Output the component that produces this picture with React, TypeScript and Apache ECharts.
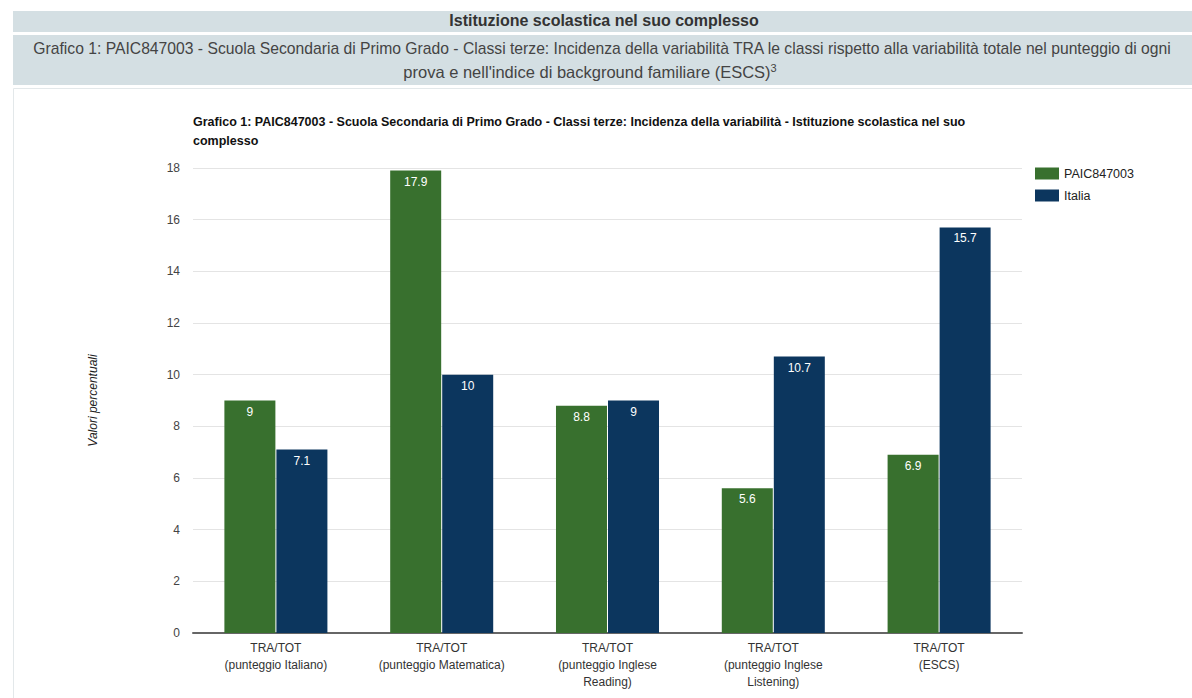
import React, { useEffect, useRef } from "react";
import * as echarts from "echarts";

const categories = [
  "TRA/TOT\n(punteggio Italiano)",
  "TRA/TOT\n(punteggio Matematica)",
  "TRA/TOT\n(punteggio Inglese\nReading)",
  "TRA/TOT\n(punteggio Inglese\nListening)",
  "TRA/TOT\n(ESCS)",
];
const schoolValues = [9, 17.9, 8.8, 5.6, 6.9];
const italyValues = [7.1, 10, 9, 10.7, 15.7];
const seriesNames = ["PAIC847003", "Italia"];
const headerTitle = "Istituzione scolastica nel suo complesso";
const headerLine1 =
  "Grafico 1: PAIC847003 - Scuola Secondaria di Primo Grado - Classi terze: Incidenza della variabilità TRA le classi rispetto alla variabilità totale nel punteggio di ogni";
const headerLine2 = "prova e nell'indice di background familiare (ESCS)";
const chartTitle =
  "Grafico 1: PAIC847003 - Scuola Secondaria di Primo Grado - Classi terze: Incidenza della variabilità - Istituzione scolastica nel suo\ncomplesso";
const yAxisName = "Valori percentuali";

const FONT = "'Liberation Sans', Arial, sans-serif";

export default function App() {
  const ref = useRef<HTMLDivElement>(null);
  useEffect(() => {
    if (!ref.current) return;
    const chart = echarts.init(ref.current, null, { renderer: "svg" });
    chart.setOption({
      animation: false,
      backgroundColor: "#ffffff",
      textStyle: { fontFamily: FONT },
      graphic: [
        { type: "rect", silent: true, z: -10, shape: { x: 13, y: 11, width: 1179, height: 21 }, style: { fill: "#d4dfe3" } },
        { type: "rect", silent: true, z: -10, shape: { x: 13, y: 35, width: 1179, height: 50 }, style: { fill: "#d4dfe3" } },
        { type: "rect", silent: true, z: -10, shape: { x: 13.5, y: 88.5, width: 1190, height: 640 }, style: { fill: "#ffffff", stroke: "#e3e8ea", lineWidth: 1 } },
        {
          type: "text", silent: true, x: 604, y: 20,
          style: { text: headerTitle, font: `bold 16px ${FONT}`, fill: "#333333", textAlign: "center", textVerticalAlign: "middle" },
        },
        {
          type: "text", silent: true, x: 602, y: 48,
          style: { text: headerLine1, font: `15.7px ${FONT}`, fill: "#444444", textAlign: "center", textVerticalAlign: "middle" },
        },
        {
          type: "text", silent: true, x: 590, y: 72,
          style: {
            text: headerLine2 + "{sup|3}",
            font: `16.5px ${FONT}`,
            fill: "#444444",
            textAlign: "center",
            textVerticalAlign: "middle",
            rich: { sup: { fontSize: 11, fontFamily: FONT, fill: "#444444", verticalAlign: "top", padding: [0, 0, 9, 0] } },
          },
        },
      ],
      title: {
        text: chartTitle,
        left: 193,
        top: 112,
        padding: 0,
        textStyle: { fontFamily: FONT, fontSize: 12.5, fontWeight: "bold", color: "#111111", lineHeight: 19 },
      },
      legend: {
        orient: "vertical",
        left: 1030,
        top: 162,
        itemWidth: 24,
        itemHeight: 12,
        itemGap: 9,
        icon: "rect",
        data: seriesNames,
        textStyle: { fontFamily: FONT, fontSize: 12.5, color: "#222222" },
      },
      grid: { left: 193, right: 170, top: 168, bottom: 65, containLabel: false },
      xAxis: {
        type: "category",
        data: categories,
        axisTick: { show: false },
        axisLine: { lineStyle: { color: "#666666", width: 2 } },
        axisLabel: { fontFamily: FONT, fontSize: 12, color: "#333333", lineHeight: 17, margin: 6, interval: 0 },
      },
      yAxis: {
        type: "value",
        min: 0,
        max: 18,
        interval: 2,
        name: yAxisName,
        nameLocation: "middle",
        nameRotate: 90,
        nameGap: 94,
        nameTextStyle: { fontFamily: FONT, fontSize: 12, fontStyle: "italic", color: "#222222" },
        axisLine: { show: false },
        axisTick: { show: false },
        axisLabel: { fontFamily: FONT, fontSize: 12, color: "#444444", margin: 13 },
        splitLine: { lineStyle: { color: "#e4e4e4", width: 1 } },
      },
      series: [
        {
          name: seriesNames[0],
          type: "bar",
          data: schoolValues,
          barWidth: 51,
          barGap: "2%",
          itemStyle: { color: "#38702e" },
          label: { show: true, position: "insideTop", distance: 5, color: "#ffffff", fontFamily: FONT, fontSize: 12 },
        },
        {
          name: seriesNames[1],
          type: "bar",
          data: italyValues,
          barWidth: 51,
          itemStyle: { color: "#0c365e" },
          label: { show: true, position: "insideTop", distance: 5, color: "#ffffff", fontFamily: FONT, fontSize: 12 },
        },
      ],
    });
    return () => chart.dispose();
  }, []);
  return <div ref={ref} style={{ position: "fixed", left: 0, top: 0, width: 1192, height: 698 }} />;
}
